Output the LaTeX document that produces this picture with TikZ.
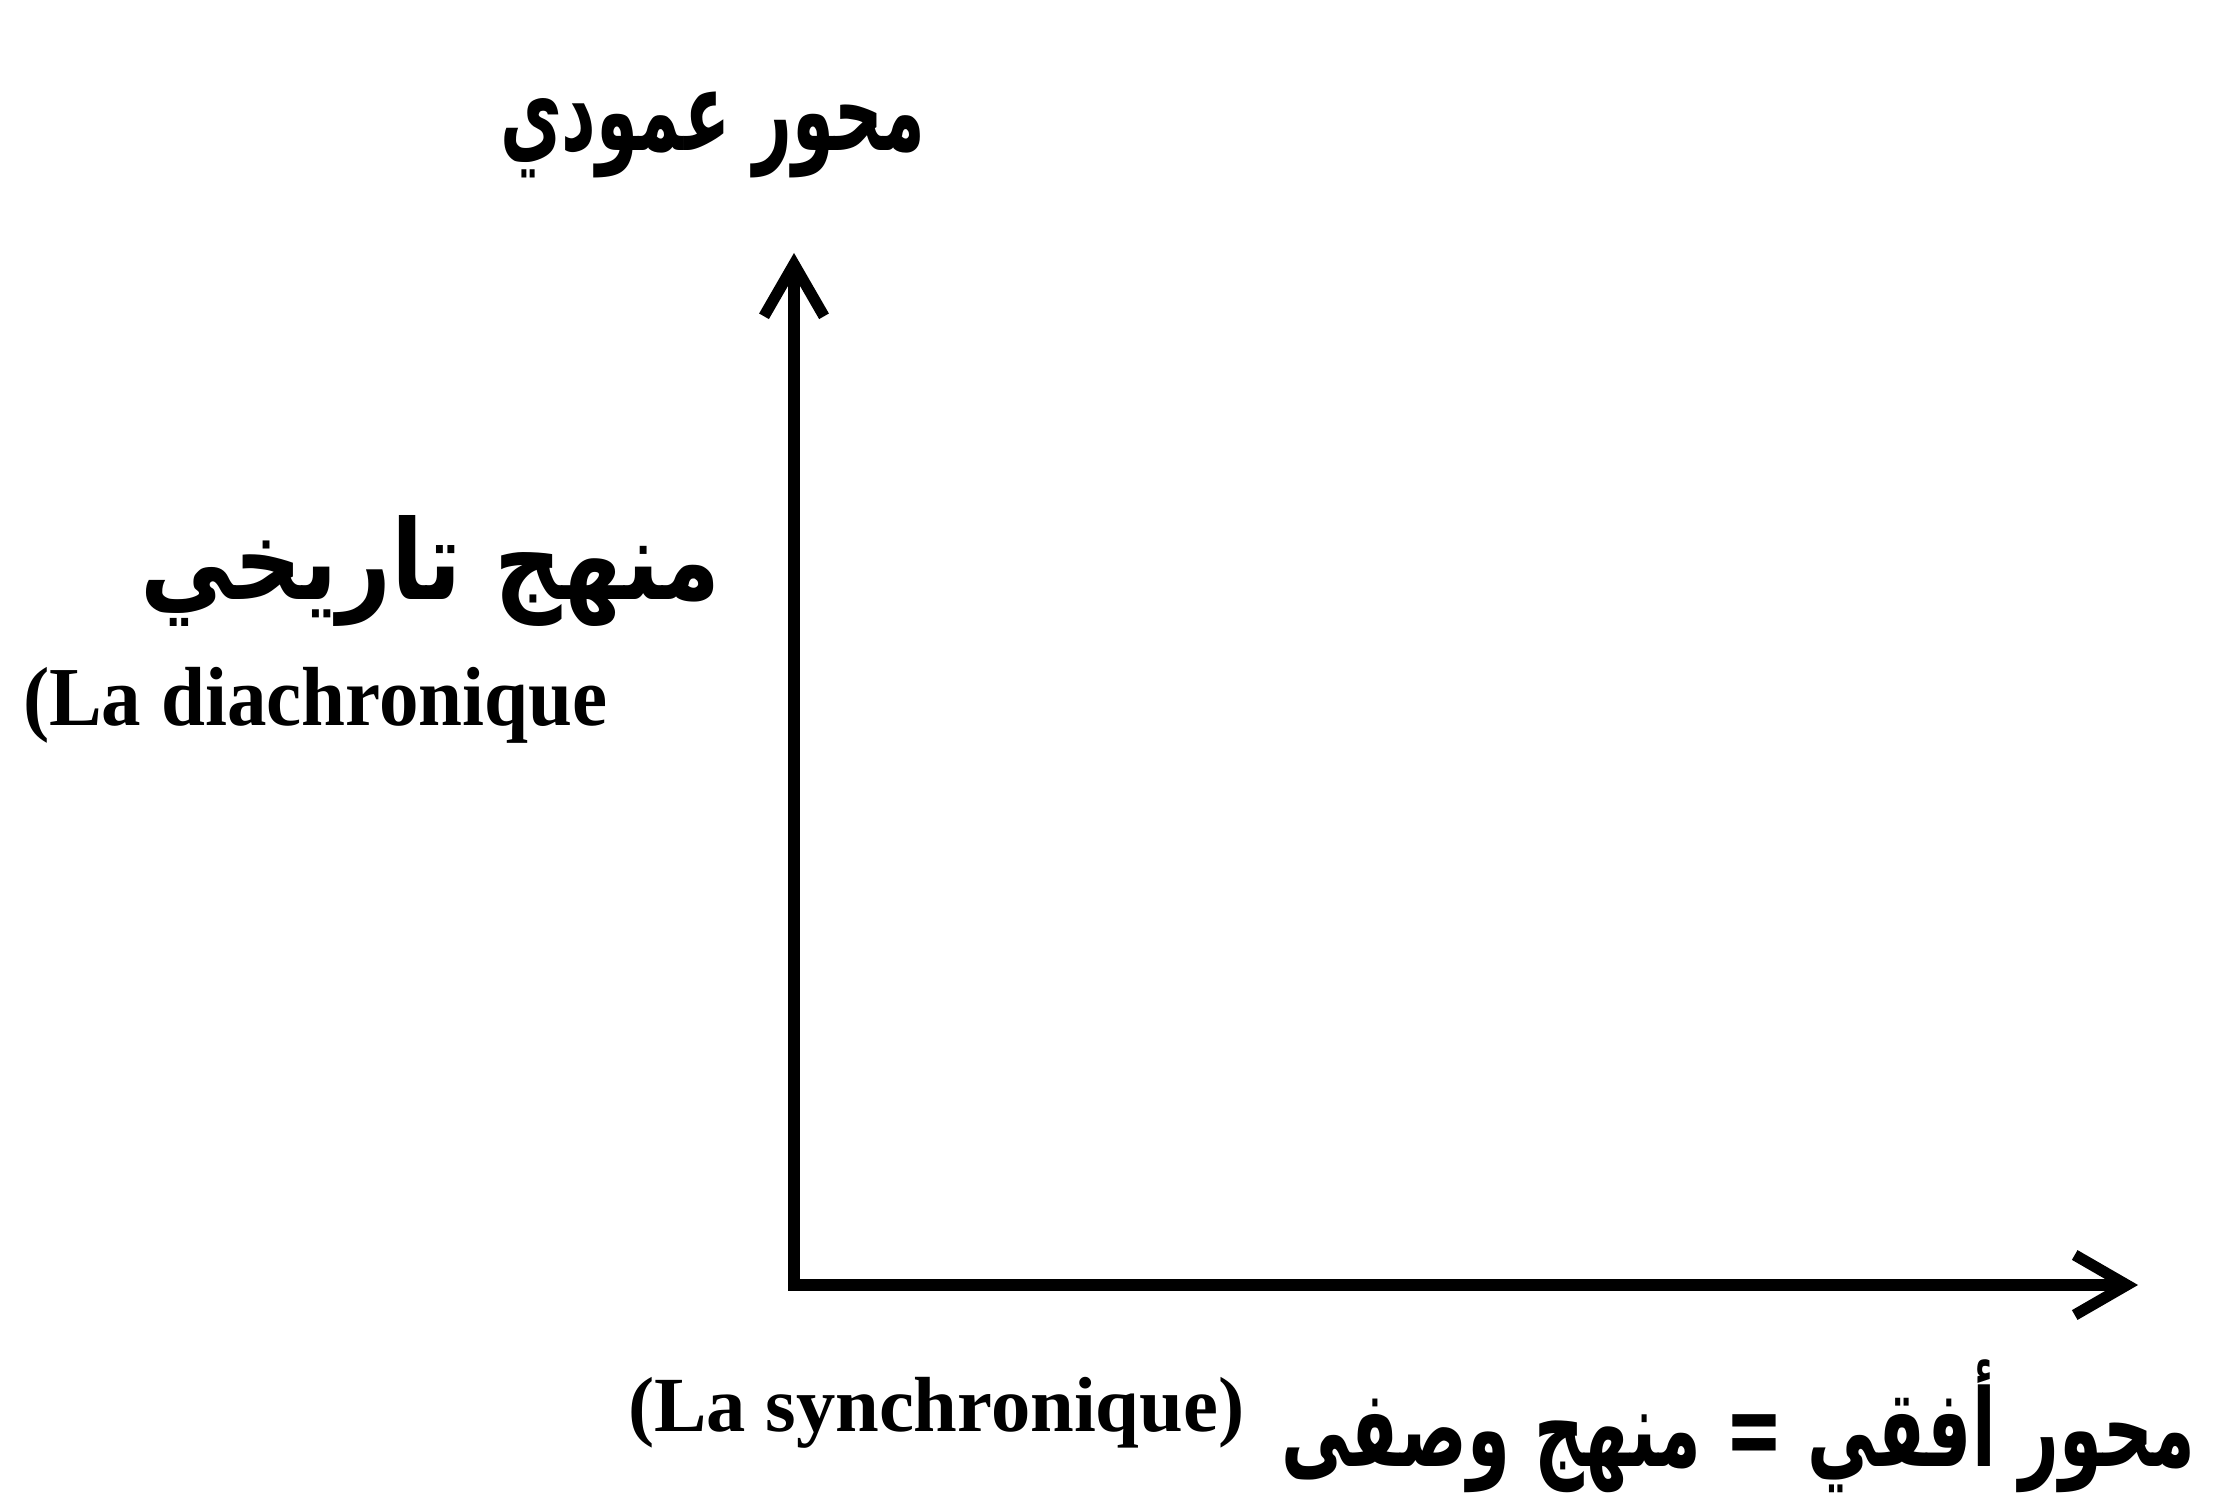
\documentclass[tikz,border=0pt]{standalone}
\usepackage{fontspec}
\setmainfont{Liberation Serif}
\newfontfamily\arabicfont[Script=Arabic]{DejaVu Sans}
\TeXXeTstate=1
\usetikzlibrary{arrows.meta}
\newcommand{\fitbox}[3]{\resizebox*{#1}{#2}{#3}}
\begin{document}
\begin{tikzpicture}[x=0.01cm,y=-0.01cm,
  lbl/.style={inner sep=0pt, outer sep=0pt, anchor=north west},
  axisline/.style={line width=3.2pt, line join=miter,
    {Straight Barb[length=5.2mm,width=6mm]}-{Straight Barb[length=5.2mm,width=6mm]}}]
\useasboundingbox (0,0) rectangle (2213,1495);
\fill[white] (0,0) rectangle (2213,1495);
\coordinate (top) at (794,253);
\coordinate (orig) at (794,1285);
\coordinate (right) at (2138,1285);
\draw[axisline] (top) -- (orig) -- (right);
\node[lbl] (vlabel) at (500,92) {\fitbox{4.25cm}{0.86cm}{\arabicfont\bfseries\beginR محور عمودي\endR}};
\node[lbl] (hist) at (140,515) {\fitbox{5.8cm}{1.11cm}{\arabicfont\bfseries\beginR منهج تاريخي\endR}};
\node[lbl] (dia) at (23,667) {\fitbox{5.84cm}{0.76cm}{\bfseries (La diachronique}};
\node[lbl] (syn) at (628,1377) {\fitbox{6.16cm}{0.71cm}{\bfseries (La synchronique)}};
\node[lbl] (hlabel) at (1281,1360) {\fitbox{9.14cm}{1.33cm}{\arabicfont\bfseries\beginR محور أفقي = منهج وصفى\endR}};
\end{tikzpicture}
\end{document}
